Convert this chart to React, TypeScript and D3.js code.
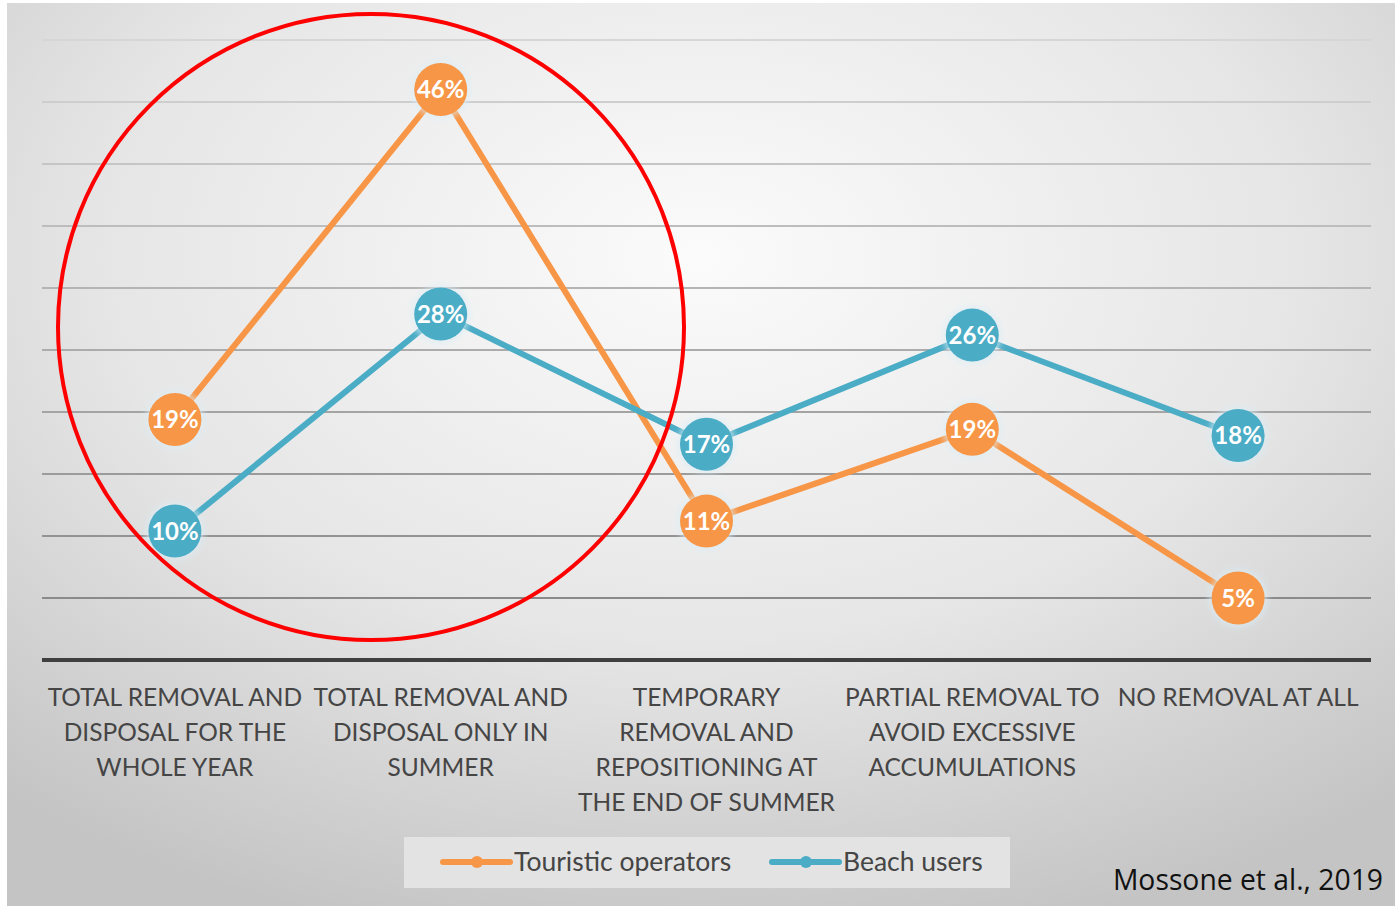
import React from "react";
import * as d3 from "d3";

const categories: string[][] = [
  ["TOTAL REMOVAL AND", "DISPOSAL FOR THE", "WHOLE YEAR"],
  ["TOTAL REMOVAL AND", "DISPOSAL ONLY IN", "SUMMER"],
  ["TEMPORARY", "REMOVAL AND", "REPOSITIONING AT", "THE END OF SUMMER"],
  ["PARTIAL REMOVAL TO", "AVOID EXCESSIVE", "ACCUMULATIONS"],
  ["NO REMOVAL AT ALL"],
];
const touristicOperators = [19.4, 46.0, 11.2, 18.6, 5.0];
const beachUsers = [10.4, 27.9, 17.4, 26.2, 18.1];
const yTicks = [5, 10, 15, 20, 25, 30, 35, 40, 45, 50];

const W = 1395;
const H = 906;
const ORANGE = "#F79646";
const BLUE = "#4BACC6";
const FONT = "Lato, 'Open Sans', sans-serif";
const fmt = d3.format(".0f");

export default function App() {
  const x = d3.scaleBand<number>().domain(d3.range(categories.length)).range([42, 1371]);
  const cx = (i: number) => (x(i) as number) + x.bandwidth() / 2;
  const y = d3.scaleLinear().domain([0, 50]).range([660, 40]);
  const line = d3
    .line<number>()
    .x((_, i) => cx(i))
    .y((d) => y(d));

  const series = [
    { name: "Touristic operators", values: touristicOperators, color: ORANGE },
    { name: "Beach users", values: beachUsers, color: BLUE },
  ];

  return (
    <svg width={W} height={H} style={{ position: "absolute", left: 0, top: 0 }}>
      <defs>
        <radialGradient id="bg" cx="50%" cy="28%" r="78%" fx="50%" fy="28%">
          <stop offset="0%" stopColor="#fbfbfb" />
          <stop offset="55%" stopColor="#e6e6e6" />
          <stop offset="100%" stopColor="#c4c4c4" />
        </radialGradient>
        <linearGradient id="grid" gradientUnits="userSpaceOnUse" x1="0" y1="40" x2="0" y2="600">
          <stop offset="0%" stopColor="#d6d6d6" />
          <stop offset="100%" stopColor="#8a8a8a" />
        </linearGradient>
        <filter id="glow" x="-50%" y="-50%" width="200%" height="200%">
          <feGaussianBlur stdDeviation="3" />
        </filter>
      </defs>
      <rect x={0} y={0} width={W} height={H} fill="#ffffff" />
      <rect x={7} y={3} width={W - 7} height={H - 3} fill="url(#bg)" />

      {yTicks.map((t) => (
        <line key={t} x1={42} x2={1371} y1={y(t)} y2={y(t)} stroke="url(#grid)" strokeWidth={2.2} />
      ))}
      <line x1={42} x2={1371} y1={y(0)} y2={y(0)} stroke="#3f3f3f" strokeWidth={4} />

      {categories.map((lines, i) => (
        <text key={i} textAnchor="middle" fontFamily={FONT} fontSize={24.5} fill="#454545">
          {lines.map((l, j) => (
            <tspan key={j} x={cx(i)} y={706 + j * 35}>
              {l}
            </tspan>
          ))}
        </text>
      ))}

      {series.map((s) => (
        <g key={s.name}>
          <path d={line(s.values) || ""} fill="none" stroke={s.color} strokeWidth={6} strokeLinejoin="round" />
          {s.values.map((v, i) => (
            <g key={i}>
              <circle cx={cx(i)} cy={y(v)} r={29} fill="#dbeef6" opacity={0.7} filter="url(#glow)" />
              <circle cx={cx(i)} cy={y(v)} r={26.5} fill={s.color} />
              <text
                x={cx(i)}
                y={y(v) + 8.5}
                textAnchor="middle"
                fontFamily={FONT}
                fontWeight="bold"
                fontSize={24}
                fill="#ffffff"
              >
                {fmt(v)}%
              </text>
            </g>
          ))}
        </g>
      ))}

      <ellipse cx={371} cy={327} rx={313} ry={313} fill="none" stroke="#ff0000" strokeWidth={4} />

      <rect x={404} y={837} width={606} height={51} fill="#e3e3e3" />
      {series.map((s, k) => {
        const lx = k === 0 ? 443 : 772;
        return (
          <g key={s.name}>
            <line x1={lx} x2={lx + 67} y1={862} y2={862} stroke={s.color} strokeWidth={6} strokeLinecap="round" />
            <circle cx={lx + 34} cy={862} r={6} fill={s.color} />
            <text x={lx + 71} y={871} fontFamily={FONT} fontSize={26.5} fill="#454545">
              {s.name}
            </text>
          </g>
        );
      })}

      <text x={1383} y={890} textAnchor="end" fontFamily="'Open Sans', sans-serif" fontSize={28.3} fill="#111111">
        Mossone et al., 2019
      </text>
    </svg>
  );
}
